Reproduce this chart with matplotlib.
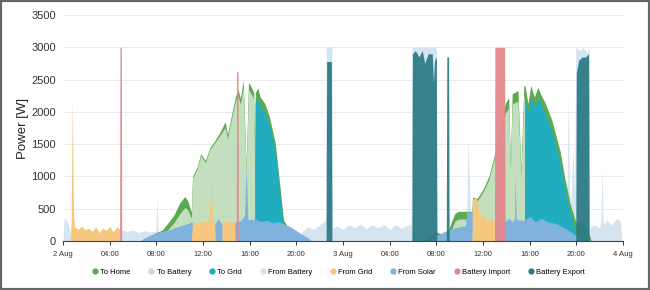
import numpy as np
import matplotlib
matplotlib.use("Agg")
import matplotlib.pyplot as plt
from matplotlib.lines import Line2D
from matplotlib.patches import Rectangle

plt.rcParams['font.family'] = ['Liberation Sans', 'DejaVu Sans']

# time axis: hours since 2 Aug 00:00
tick_hours = [0, 4, 8, 12, 16, 20, 24, 28, 32, 36, 40, 44, 48]
tick_labels = ['2 Aug', '04:00', '08:00', '12:00', '16:00', '20:00', '3 Aug',
               '04:00', '08:00', '12:00', '16:00', '20:00', '4 Aug']

# solar production, day 1 (2 Aug)
t_day1 = [7.0, 7.5, 8.0, 8.5, 9.0, 9.5, 10.0, 10.45, 10.7, 11.0,
          11.1, 11.5, 11.8, 12.2, 12.6, 13.0, 13.5, 13.9, 14.1, 14.5,
          14.8, 15.0, 15.2, 15.45, 15.7, 15.9, 16.15, 16.35, 16.42, 16.48,
          16.7, 16.9, 17.3, 17.7, 18.2, 18.6, 18.9, 19.3, 19.6, 20.0,
          20.5]
home_day1 = [30, 80, 130, 170, 280, 400, 590, 690, 620, 450,
             1000, 1150, 1350, 1250, 1450, 1550, 1700, 1850, 1650, 2000,
             2250, 2350, 2210, 2490, 1170, 2460, 2380, 2300, 1200, 2300,
             2370, 2230, 2130, 1920, 1510, 840, 330, 200, 120, 40,
             0]
to_batt_day1 = [0, 30, 80, 110, 180, 280, 420, 520, 480, 350,
                970, 1120, 1320, 1220, 1420, 1520, 1650, 1760, 1580, 1950,
                2180, 2250, 2120, 2380, 1100, 2350, 2270, 2200, 1100, 0,
                0, 0, 0, 0, 0, 0, 0, 0, 0, 0,
                0]
to_grid_day1 = [0, 0, 0, 0, 0, 0, 0, 0, 0, 0,
                0, 0, 0, 0, 0, 0, 0, 0, 0, 0,
                0, 0, 0, 0, 0, 0, 0, 0, 0, 2150,
                2200, 2090, 2000, 1790, 1380, 700, 230, 90, 40, 0,
                0]

# solar production, day 2 (3 Aug)
t_day2 = [30.8, 31.5, 32.0, 32.5, 33.0, 33.3, 33.6, 33.9, 35.05, 35.1,
          35.5, 36.0, 36.5, 37.0, 37.5, 37.9, 38.2, 38.35, 38.5, 38.7,
          39.0, 39.25, 39.5, 39.55, 39.6, 39.85, 40.1, 40.4, 40.7, 41.0,
          41.3, 41.9, 42.6, 43.0, 43.45, 43.9, 44.0, 44.5, 45.0, 45.3]
home_day2 = [0, 80, 140, 100, 150, 300, 430, 460, 460, 680,
             660, 800, 1000, 1350, 1700, 2130, 2220, 1200, 2280, 2300,
             2330, 1100, 2410, 2400, 2410, 2130, 2410, 2230, 2380, 2250,
             2150, 1870, 1400, 990, 590, 320, 300, 300, 150, 0]
to_batt_day2 = [0, 0, 0, 30, 60, 180, 310, 340, 340, 640,
                620, 760, 950, 1300, 1600, 1980, 2060, 1100, 2120, 2140,
                2170, 1000, 2250, 2240, 0, 0, 0, 0, 0, 0,
                0, 0, 0, 0, 0, 0, 0, 0, 0, 0]
to_grid_day2 = [0, 0, 0, 0, 0, 0, 0, 0, 0, 0,
                0, 0, 0, 0, 0, 0, 0, 0, 0, 0,
                0, 0, 0, 0, 2200, 2000, 2230, 2080, 2220, 2100,
                1980, 1700, 1230, 820, 450, 180, 50, 0, 0, 0]

# from solar (direct use)
solar_t = [6.6, 7.0, 7.5, 8.0, 8.5, 9.0, 9.5, 10.0, 10.5, 11.0,
           12.0, 13.0, 13.3, 13.6, 14.0, 14.7, 15.0, 15.3, 15.55, 15.7,
           15.85, 16.5, 17.0, 17.5, 18.0, 18.5, 19.0, 19.5, 20.0, 20.5,
           21.0, 21.3,
           31.0, 31.5, 32.0, 32.5, 33.0, 33.5, 34.0, 34.5, 34.6, 35.05,
           35.1, 36.0, 37.0, 37.9, 38.2, 38.5, 38.7, 38.75, 38.85, 39.0,
           39.5, 40.0, 40.5, 41.0, 41.5, 42.0, 42.5, 43.0, 43.5, 44.0,
           44.5, 45.0]
solar_v = [0, 50, 90, 120, 150, 170, 200, 230, 260, 290,
           260, 260, 350, 260, 250, 280, 300, 320, 400, 1150,
           330, 340, 300, 320, 280, 300, 260, 220, 160, 100,
           50, 0,
           0, 30, 80, 130, 170, 200, 220, 240, 450, 450,
           250, 280, 300, 300, 350, 300, 340, 1000, 340, 330,
           320, 380, 300, 350, 300, 280, 250, 200, 150, 80,
           30, 0]

# from battery
from_batt_t = [0.0, 0.1, 0.3, 0.55, 0.7,
               4.95, 5.0, 5.5, 6.0, 6.5, 7.0, 7.5, 7.95, 8.05, 8.15, 8.5, 9.0, 9.5,
               20.0, 20.5, 21.0, 21.5, 22.0, 22.5, 22.55, 23.05, 23.1, 23.5,
               24.0, 24.5, 25.0, 25.5, 26.0, 26.5, 27.0, 27.5, 28.0, 28.5,
               29.0, 29.5, 29.85, 29.9, 32.0, 32.05, 32.5, 33.0,
               34.5, 34.6, 34.72, 34.85, 35.0,
               42.8, 43.0, 43.2, 43.3, 43.4, 43.55, 43.7, 43.85, 43.95, 44.3,
               44.6, 44.9, 45.1, 45.15, 45.5, 46.0, 46.1, 46.2, 46.3, 46.6,
               47.0, 47.5, 47.8, 47.9]
from_batt_v = [0, 350, 330, 200, 0,
               0, 170, 150, 170, 130, 160, 140, 150, 720, 150, 120, 60, 0,
               0, 150, 220, 180, 250, 320, 3000, 3000, 200, 230,
               180, 250, 200, 260, 190, 250, 200, 260, 180, 250,
               200, 240, 260, 3000, 3000, 150, 80, 0,
               0, 400, 1600, 800, 0,
               0, 400, 700, 2260, 800, 600, 1450, 700, 3000, 2950,
               3000, 2920, 3000, 200, 250, 200, 300, 1130, 250, 320,
               250, 350, 300, 0]

# from grid
from_grid_t = [0.6, 0.7, 0.8, 0.9, 1.0, 1.3, 1.6, 1.9, 2.2, 2.5,
               2.8, 3.1, 3.4, 3.7, 4.0, 4.3, 4.6, 4.85, 4.9,
               11.0, 11.1, 11.5, 12.0, 12.5, 12.6, 12.7, 12.8, 13.0, 13.05,
               13.6, 13.65, 14.0, 14.5, 14.7, 14.75,
               35.05, 35.1, 35.4, 35.6, 35.8, 36.0, 36.3, 36.6, 37.0, 37.05]
from_grid_v = [0, 300, 2200, 400, 220, 180, 230, 170, 200, 150,
               220, 130, 200, 160, 230, 140, 220, 180, 0,
               0, 300, 280, 300, 320, 600, 1000, 300, 280, 0,
               0, 300, 320, 280, 300, 0,
               0, 650, 680, 500, 350, 450, 300, 350, 300, 0]

# battery import / export
import_t = [4.85, 4.88, 5.0, 5.03, 14.85, 14.88, 15.0, 15.03, 36.98, 37.02, 37.85, 37.9]
import_v = [0, 3000, 3000, 0, 0, 2620, 2620, 0, 0, 3000, 3000, 0]
export_t = [22.55, 22.6, 23.0, 23.05,
            29.9, 29.95, 30.2, 30.5, 30.8, 31.0, 31.3, 31.65, 31.75, 31.85, 32.0, 32.05,
            32.85, 32.9, 33.05, 33.1,
            43.95, 44.0, 44.2, 44.5, 44.8, 45.05, 45.1]
export_v = [0, 2780, 2780, 0,
            0, 2900, 2950, 2850, 2950, 2750, 2900, 2900, 2450, 2800, 2850, 0,
            0, 2850, 2850, 0,
            0, 2600, 2800, 2850, 2850, 2900, 0]

colors = {
    'To Home': '#5cab52',
    'To Battery': '#c3dfbd',
    'To Grid': '#22acbf',
    'From Battery': '#d4e4f0',
    'From Grid': '#f6c77f',
    'From Solar': '#7fb3de',
    'Battery Import': '#e3888c',
    'Battery Export': '#2a7985',
}

fig = plt.figure(figsize=(6.5, 2.9), dpi=100)
ax = fig.add_axes([63 / 650, 1 - 241 / 290, 560 / 650, 226 / 290])


def area(t, v, name, z, alpha=1.0):
    ax.fill_between(np.array(t, float), 0, np.array(v, float), color=colors[name],
                    lw=0, zorder=z, alpha=alpha)


area(from_batt_t, from_batt_v, 'From Battery', 2)
for t, h, b, g in [(t_day1, home_day1, to_batt_day1, to_grid_day1),
                   (t_day2, home_day2, to_batt_day2, to_grid_day2)]:
    area(t, h, 'To Home', 3)
    area(t, b, 'To Battery', 4)
    area(t, g, 'To Grid', 5)
area(solar_t, solar_v, 'From Solar', 6)
area(from_grid_t, from_grid_v, 'From Grid', 7)
area(import_t, import_v, 'Battery Import', 8, 0.95)
area(export_t, export_v, 'Battery Export', 9, 0.92)

ax.set_xlim(0, 48)
ax.set_ylim(0, 3500)
ax.set_yticks(range(0, 3501, 500))
ax.set_xticks(tick_hours)
ax.set_xticklabels(tick_labels)
ax.tick_params(axis='y', length=0, labelsize=8, colors='#333333', pad=5)
ax.tick_params(axis='x', length=3, width=0.7, labelsize=5.5, colors='#333333', pad=4)
ax.grid(axis='y', color='#e8e8e8', lw=0.6, zorder=0)
ax.set_axisbelow(True)
for s in ['top', 'right', 'left']:
    ax.spines[s].set_visible(False)
ax.spines['bottom'].set_color('#444444')
ax.spines['bottom'].set_linewidth(0.8)
ax.spines['bottom'].set_zorder(10)
ax.set_ylabel('Power [W]', fontsize=9.5, color='#222222', labelpad=2)

handles = [Line2D([], [], marker='o', ls='', markersize=4.5, markeredgewidth=0,
                  color=c, label=n) for n, c in colors.items()]
fig.legend(handles=handles, loc='center', bbox_to_anchor=(0.52, 0.062), ncol=8,
           frameon=False, fontsize=5.5, handletextpad=0.2, columnspacing=2.2,
           handlelength=1.0)

fig.patches.append(Rectangle((0, 0), 1, 1, transform=fig.transFigure, fill=False,
                             edgecolor='#666666', lw=3))

fig.savefig('out.png', dpi=100)
